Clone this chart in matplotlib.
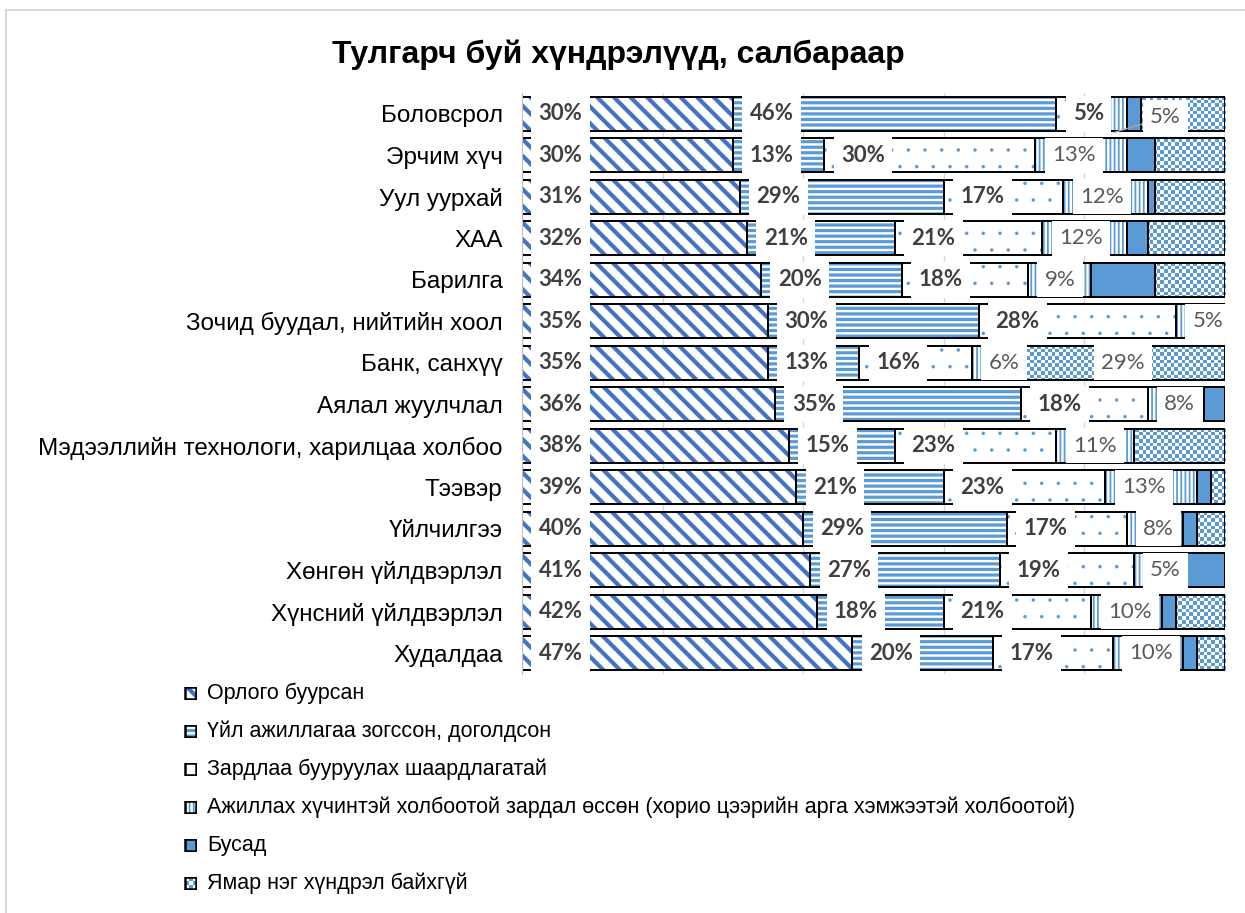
import numpy as np
import matplotlib
import matplotlib.pyplot as plt
from matplotlib.colors import ListedColormap
from matplotlib.lines import Line2D

plt.rcParams['font.family'] = ['Liberation Sans', 'DejaVu Sans']

sectors = ["Боловсрол", "Эрчим хүч", "Уул уурхай", "ХАА", "Барилга",
           "Зочид буудал, нийтийн хоол", "Банк, санхүү", "Аялал жуулчлал",
           "Мэдээллийн технологи, харилцаа холбоо", "Тээвэр", "Үйлчилгээ",
           "Хөнгөн үйлдвэрлэл", "Хүнсний үйлдвэрлэл", "Худалдаа"]

series_names = ["Орлого буурсан",
                "Үйл ажиллагаа зогссон, доголдсон",
                "Зардлаа бууруулах шаардлагатай",
                "Ажиллах хүчинтэй холбоотой зардал өссөн (хорио цээрийн арга хэмжээтэй холбоотой)",
                "Бусад",
                "Ямар нэг хүндрэл байхгүй"]

income = [30, 30, 31, 32, 34, 35, 35, 36, 38, 39, 40, 41, 42, 47]
stopped = [46, 13, 29, 21, 20, 30, 13, 35, 15, 21, 29, 27, 18, 20]
costs = [5, 30, 17, 21, 18, 28, 16, 18, 23, 23, 17, 19, 21, 17]
labour = [5, 13, 12, 12, 9, 5, 6, 8, 11, 13, 8, 5, 10, 10]
other = [2, 4, 1, 3, 9, 1, 1, 3, 0, 2, 2, 8, 2, 2]
no_problem = [12, 10, 10, 11, 10, 1, 29, 0, 13, 2, 4, 0, 7, 4]

values = [income, stopped, costs, labour, other, no_problem]

blue = '#5B9BD5'
dark_blue = '#4472C4'
styles = [
    dict(hatch='\\\\', hc=dark_blue, hlw=3.0),
    dict(hatch='---', hc=blue, hlw=2.3),
    dict(hatch='.', hc=blue, hlw=0.1),
    dict(hatch='||||', hc=blue, hlw=1.3),
    dict(face=blue),
    dict(checker=True),
]
checker_cmap = ListedColormap(['white', blue])


def draw_segments(ax, yy, widths, lefts, height, st, edge_lw=1.4):
    if st.get('checker'):
        bars = ax.barh(yy, widths, left=lefts, height=height, color='white', linewidth=0)
        bb = ax.get_window_extent()
        nx, ny = max(int(bb.width / 3.6), 3), max(int(bb.height / 3.6), 3)
        board = np.indices((ny, nx)).sum(axis=0) % 2
        x0, x1 = ax.get_xlim()
        y0, y1 = ax.get_ylim()
        for b in bars:
            im = ax.imshow(board, extent=(x0, x1, y0, y1), cmap=checker_cmap,
                           interpolation='nearest', aspect='auto', zorder=1.5)
            im.set_clip_path(b)
    elif 'hatch' in st:
        with plt.rc_context({'hatch.linewidth': st['hlw']}):
            bars = ax.barh(yy, widths, left=lefts, height=height, color='white',
                           edgecolor=st['hc'], linewidth=0, hatch=st['hatch'])
        for b in bars:
            if hasattr(b, 'set_hatch_linewidth'):
                b.set_hatch_linewidth(st['hlw'])
    else:
        ax.barh(yy, widths, left=lefts, height=height, color=st['face'], linewidth=0)
    ax.barh(yy, widths, left=lefts, height=height, fill=False,
            edgecolor='black', linewidth=edge_lw, zorder=2)


fig = plt.figure(figsize=(12.45, 9.13), dpi=100)
ax = fig.add_axes([522 / 1245, 1 - 674 / 913, 703 / 1245, 581 / 913])
ax.set_xlim(0, 100)
ax.set_ylim(len(sectors) - 0.5, -0.5)

y = np.arange(len(sectors))
lefts = np.zeros(len(sectors))
starts = []
for k, vals in enumerate(values):
    starts.append(lefts.copy())
    draw_segments(ax, y, vals, lefts, 0.82, styles[k])
    lefts = lefts + np.array(vals)

ax.set_xlim(0, 100)
ax.set_ylim(len(sectors) - 0.5, -0.5)

# data labels
box = dict(boxstyle='square,pad=0.33', fc='white', ec='none')
for k in range(4):
    for j, v in enumerate(values[k]):
        bold = k < 3
        kw = dict(fontsize=16, family='Lato', fontweight='bold' if bold else 'normal',
                  color='#404040' if bold else '#595959', bbox=box, zorder=5,
                  textcoords='offset points', va='center')
        if k == 3 and j == 0:
            ax.annotate(f"{v}%", (starts[k][j] + 3.2, j + 0.45), xytext=(26, 11), ha='left',
                        arrowprops=dict(arrowstyle='-', color='#a6a6a6', lw=1,
                                        shrinkA=0, shrinkB=0), **kw)
        else:
            ax.annotate(f"{v}%", (starts[k][j], j), xytext=(12, 0), ha='left', **kw)

j = sectors.index("Банк, санхүү")
ax.annotate(f"{no_problem[j]}%", (starts[5][j] + no_problem[j] / 2, j), xytext=(0, 0),
            textcoords='offset points', ha='center', va='center', fontsize=16,
            family='Lato', color='#595959', bbox=box, zorder=5)

ax.set_xticks([0, 20, 40, 60, 80, 100])
ax.set_xticklabels([])
ax.grid(axis='x', color='#d9d9d9', lw=1)
ax.set_axisbelow(True)
ax.set_yticks(y, sectors, fontsize=17.5)
ax.tick_params(length=0)
ax.tick_params(axis='y', pad=14)
for s in ['top', 'right', 'bottom']:
    ax.spines[s].set_visible(False)
ax.spines['left'].set_color('#bfbfbf')

fig.text(0.497, 1 - 55 / 913, "Тулгарч буй хүндрэлүүд, салбараар",
         ha='center', va='center', fontsize=23, fontweight='bold')

# legend
for k, name in enumerate(series_names):
    yc = 1 - (693 + 38 * k) / 913
    lax = fig.add_axes([184 / 1245, yc - 6.5 / 913, 13 / 1245, 13 / 913])
    lax.set_xlim(-0.08, 1.08)
    lax.set_ylim(-0.08, 1.08)
    lax.axis('off')
    draw_segments(lax, [0.5], [1], [0], 1.0, styles[k], edge_lw=1.8)
    lax.set_xlim(-0.08, 1.08)
    lax.set_ylim(-0.08, 1.08)
    fig.text(207 / 1245, yc, name, ha='left', va='center', fontsize=15.5)

# chart border
fig.add_artist(Line2D([6 / 1245, 6 / 1245], [0, 1 - 10 / 913], color='#d9d9d9', lw=1.5))
fig.add_artist(Line2D([6 / 1245, 1], [1 - 10 / 913, 1 - 10 / 913], color='#d9d9d9', lw=1.5))

fig.savefig('out.png', dpi=100)
